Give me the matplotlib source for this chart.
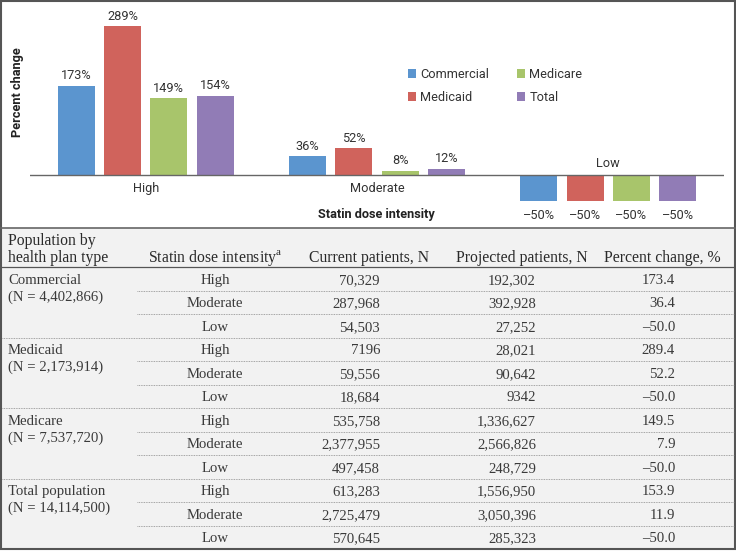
"""
Projected statin use by dose intensity: bar chart with summary table underneath.
"""

import matplotlib
matplotlib.use("Agg")
import matplotlib.pyplot as plt
import numpy as np
from matplotlib.patches import Rectangle

W, H = 736, 551

# chart data
intensity = ["High", "Moderate", "Low"]
plans = ["Commercial", "Medicaid", "Medicare", "Total"]
commercial_pct = [173, 36, -50]
medicaid_pct = [289, 52, -50]
medicare_pct = [149, 8, -50]
total_pct = [154, 12, -50]
colors = ["#5b95cf", "#d0635c", "#a8c56b", "#917cb6"]

# table data
group_names = ["Commercial", "Medicaid", "Medicare", "Total population"]
group_sizes = ["(N = 4,402,866)", "(N = 2,173,914)", "(N = 7,537,720)", "(N = 14,114,500)"]
row_intensity = intensity * 4
current_n = ["70,329", "287,968", "54,503", "7196", "59,556", "18,684",
             "535,758", "2,377,955", "497,458", "613,283", "2,725,479", "570,645"]
projected_n = ["192,302", "392,928", "27,252", "28,021", "90,642", "9342",
               "1,336,627", "2,566,826", "248,729", "1,556,950", "3,050,396", "285,323"]
pct_change = ["173.4", "36.4", "\u201350.0", "289.4", "52.2", "\u201350.0",
              "149.5", "7.9", "\u201350.0", "153.9", "11.9", "\u201350.0"]

SANS = ["Roboto", "Liberation Sans", "DejaVu Sans"]
SERIF = ["Liberation Serif", "DejaVu Serif"]
plt.rcParams["mathtext.fontset"] = "custom"
plt.rcParams["mathtext.rm"] = "Liberation Serif"

fig = plt.figure(figsize=(W / 100, H / 100), dpi=100)
fig.patch.set_facecolor("white")

# ---- background / table, in pixel coordinates ----
bg = fig.add_axes([0, 0, 1, 1])
bg.set_xlim(0, W)
bg.set_ylim(H, 0)
bg.axis("off")

table_top, header_bottom, row_h = 228, 267, 23.5
bg.add_patch(Rectangle((1, table_top), W - 2, H - 2 - table_top, fc="#f2f2f2", ec="none"))
bg.plot([1, W - 1], [table_top, table_top], color="#666666", lw=1.2)
bg.plot([1, W - 1], [header_bottom, header_bottom], color="#555555", lw=0.9)

for i in range(11):
    y = header_bottom + row_h * (i + 1)
    x0 = 2 if (i + 1) % 3 == 0 else 137
    bg.plot([x0, W - 2], [y, y], color="#8a8a8a", lw=0.6, ls=(0, (1, 1)))

txt = dict(family=SERIF, color="#2a2a2a", fontsize=11.3)
bg.text(8, 241, "Population by", ha="left", va="center", **txt)
bg.text(8, 258, "health plan type", ha="left", va="center", **txt)
bg.text(215, 258, "Statin dose intensity$^{\\rm a}$", ha="center", va="center", **txt)
bg.text(369, 258, "Current patients, N", ha="center", va="center", **txt)
bg.text(522, 258, "Projected patients, N", ha="center", va="center", **txt)
bg.text(662, 258, "Percent change, %", ha="center", va="center", **txt)

body = dict(family=SERIF, color="#3a3a3a", fontsize=10.6, va="center")
for g in range(4):
    yc = header_bottom + row_h * (3 * g + 0.5)
    bg.text(8, yc + 1.5, group_names[g], ha="left", **body)
    bg.text(8, yc + 18.5, group_sizes[g], ha="left", **body)

for i in range(12):
    yc = header_bottom + row_h * (i + 0.5) + 1.5
    bg.text(215, yc, row_intensity[i], ha="center", **body)
    bg.text(380, yc, current_n[i], ha="right", **body)
    bg.text(536, yc, projected_n[i], ha="right", **body)
    bg.text(675, yc, pct_change[i], ha="right", **body)

bg.add_patch(Rectangle((1, 1), W - 2, H - 3, fill=False, ec="#555555", lw=1.5))

# ---- bar chart ----
base_px, top_px, top_val = 175, 26, 289
k = (base_px - top_px) / top_val          # pixels per percent
ylo, yhi = -100, 330
ax_top = base_px - yhi * k
ax_bot = base_px - ylo * k
ax = fig.add_axes([30 / W, (H - ax_bot) / H, 694 / W, (ax_bot - ax_top) / H])
ax.patch.set_alpha(0)
ax.set_xlim(-2.5, 12.5)
ax.set_ylim(ylo, yhi)
ax.axis("off")

series = [commercial_pct, medicaid_pct, medicare_pct, total_pct]
centers = np.arange(len(intensity)) * 5
offsets = [-1.5, -0.5, 0.5, 1.5]
lab = dict(family=SANS, color="#333333", fontsize=9.2)

for name, vals, off, c in zip(plans, series, offsets, colors):
    xs = centers + off
    ax.bar(xs, vals, width=0.8, color=c, label=name, zorder=2)
    for x, v in zip(xs, vals):
        dy = 7.2 if v > 0 else -10.8
        s = f"{v}%" if v >= 0 else f"\u2013{abs(v)}%"
        ax.annotate(s, (x, v), xytext=(0, dy), textcoords="offset points",
                    ha="center", va="center", **lab)

ax.axhline(0, color="#666666", lw=1.0, zorder=3)

for x, name, vals in zip(centers, intensity, commercial_pct):
    dy = -10 if vals > 0 else 8.6
    ax.annotate(name, (x, 0), xytext=(0, dy), textcoords="offset points",
                ha="center", va="center", **lab)

fig.text(376.5 / W, 1 - 215 / H, "Statin dose intensity", ha="center", va="center",
         family=SANS, fontsize=9.2, fontweight="bold", color="#222222")
fig.text(18 / W, 1 - 92 / H, "Percent change", rotation=90, ha="center", va="center",
         family=SANS, fontsize=9.2, fontweight="bold", color="#222222")

ax.legend(loc="upper left", bbox_to_anchor=(408 / W, 1 - 68 / H),
          bbox_transform=fig.transFigure, ncol=2, frameon=False,
          prop=dict(family=SANS, size=9.2), handlelength=0.65, handleheight=0.65,
          handletextpad=0.3, columnspacing=2.2, labelspacing=0.8,
          borderpad=0, borderaxespad=0, labelcolor="#333333")

plt.savefig("out.png", dpi=100)
plt.close()
